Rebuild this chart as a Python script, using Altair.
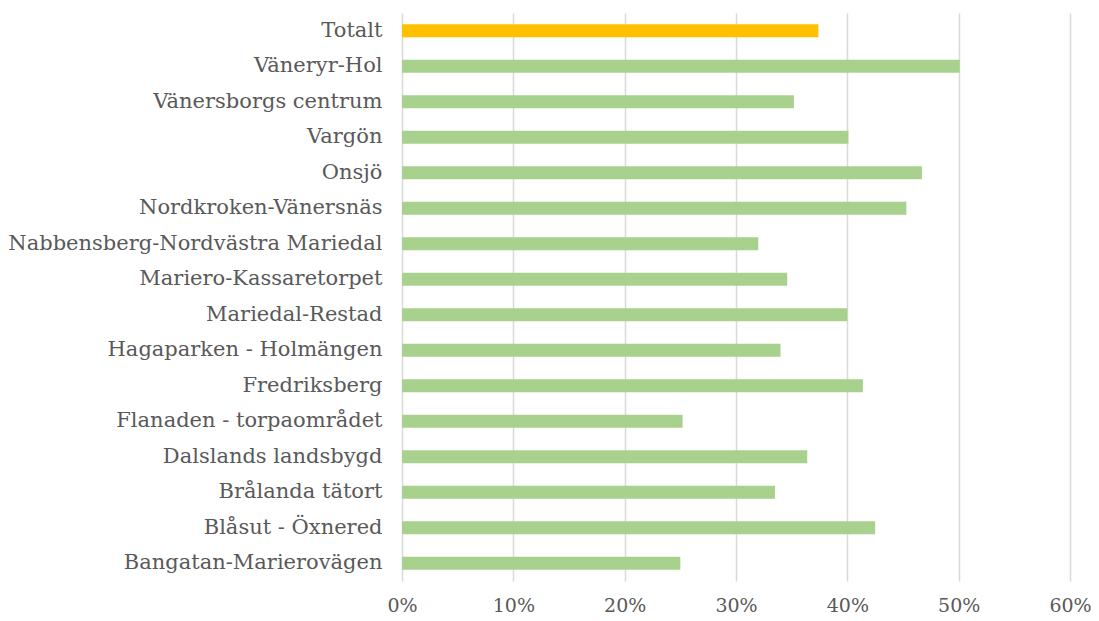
import altair as alt
import pandas as pd

categories = [
    "Totalt", "Väneryr-Hol", "Vänersborgs centrum", "Vargön", "Onsjö",
    "Nordkroken-Vänersnäs", "Nabbensberg-Nordvästra Mariedal",
    "Mariero-Kassaretorpet", "Mariedal-Restad", "Hagaparken - Holmängen",
    "Fredriksberg", "Flanaden - torpaområdet", "Dalslands landsbygd",
    "Brålanda tätort", "Blåsut - Öxnered", "Bangatan-Marierovägen",
]
values = [0.374, 0.501, 0.352, 0.401, 0.467, 0.453, 0.320, 0.346, 0.400,
          0.340, 0.414, 0.252, 0.364, 0.335, 0.425, 0.250]
groups = ["Totalt"] + ["Område"] * 15

df = pd.DataFrame({"omrade": categories, "andel": values, "grupp": groups})

FONT = "DejaVu Serif"

chart = alt.Chart(df).mark_bar().encode(
    y=alt.Y("omrade:N", sort=categories, title=None,
            scale=alt.Scale(paddingInner=0.64, paddingOuter=0.32),
            axis=alt.Axis(domain=False, ticks=False, grid=False,
                          labelPadding=20, labelFontSize=21, labelFont=FONT,
                          labelColor="#595959", labelLimit=420)),
    x=alt.X("andel:Q", title=None,
            scale=alt.Scale(domain=[0, 0.6], nice=False),
            axis=alt.Axis(format="%", values=[0, 0.1, 0.2, 0.3, 0.4, 0.5, 0.6],
                          domain=False, ticks=False, grid=True, labelFlush=False,
                          gridColor="#d9d9d9", gridWidth=1.5,
                          labelPadding=15, labelFontSize=19, labelFont=FONT,
                          labelColor="#595959")),
    color=alt.Color("grupp:N", legend=None,
                    scale=alt.Scale(domain=["Totalt", "Område"],
                                    range=["#FFC000", "#A9D18E"])),
).properties(
    width=668, height=568,
    autosize=alt.AutoSizeParams(type="none"),
    padding={"left": 394, "top": 5, "right": 21, "bottom": 40},
).configure_view(stroke=None)

chart.save("out.html", embed_options={"renderer": "svg", "actions": False})
